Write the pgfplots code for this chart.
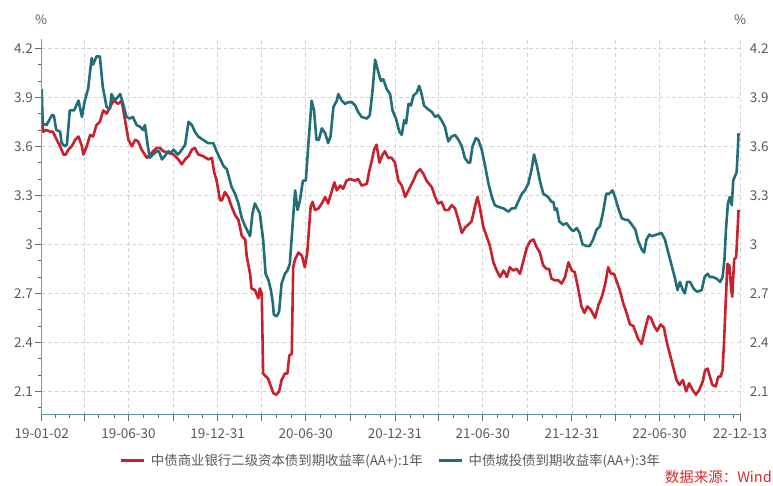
\documentclass[border=0pt]{standalone}
\usepackage{pgfplots}
\pgfplotsset{compat=1.18}
\usepackage{fontspec}
\setmainfont{Noto Sans CJK SC}

\definecolor{bondred}{RGB}{200,32,45}
\definecolor{bondteal}{RGB}{33,110,120}
\definecolor{labelgray}{RGB}{89,89,89}
\definecolor{gridgray}{RGB}{210,210,210}
\definecolor{axisgray}{RGB}{150,150,150}
\definecolor{axisteal}{RGB}{95,150,162}
\definecolor{srcred}{RGB}{226,40,40}

% x = calendar days since 2019-01-02
\pgfplotsset{
  bondframe/.style={
    scale only axis, width=698.3bp, height=375bp,
    xmin=0, xmax=1441, ymin=1.96, ymax=4.255,
    ytick={2.1,2.4,2.7,3,3.3,3.6,3.9,4.2},
    /pgf/number format/assume math mode=true,
    ticklabel style={font=\fontsize{13.5bp}{15bp}\selectfont, text=labelgray, inner sep=0pt},
  }
}

\begin{document}
\begin{tikzpicture}
\begin{axis}[
  bondframe,
  axis x line*=bottom, axis y line*=left,
  x axis line style={draw=axisteal, line width=1bp, -},
  y axis line style={draw=axisgray, line width=0.8bp, -},
  tick align=outside,
  major tick length=6.7bp, minor tick length=4bp,
  every tick/.style={draw=axisgray!70!black, line width=0.8bp},
  xtick={0,179,363,545,729,910,1094,1275,1441},
  xticklabels={19-01-02,19-06-30,19-12-31,20-06-30,20-12-31,21-06-30,21-12-31,22-06-30,22-12-13},
  extra x ticks={88,271,454,637,819,1002,1184,1367},
  extra x tick labels={},
  minor xtick={29,57,118,149,210,241,302,332,394,423,484,515,576,607,668,698,760,788,849,880,941,972,1033,1063,1125,1153,1214,1245,1306,1337,1398,1428},
  minor ytick={2.0,2.2,2.3,2.5,2.6,2.8,2.9,3.1,3.2,3.4,3.5,3.7,3.8,4.0,4.1},
  xmajorgrids, ymajorgrids,
  major grid style={draw=gridgray, dash pattern=on 3.5bp off 3bp, line width=0.7bp},
  xticklabel style={anchor=north, yshift=-7bp},
  yticklabel style={anchor=east, xshift=-2bp},
  legend columns=2,
  legend cell align=left,
  legend style={at={(axis description cs:0.1121,-0.1245)}, anchor=west,
    draw=none, fill=none, inner sep=0pt, outer sep=0pt,
    nodes={inner sep=0pt, text=labelgray, font=\fontsize{13.4bp}{15bp}\selectfont},
    /tikz/every odd column/.append style={column sep=5bp},
    /tikz/every even column/.append style={column sep=15bp}},
  legend image code/.code={\draw[#1, line width=3bp] (0bp,0bp) -- (23bp,0bp);},
  every axis plot/.append style={line width=2.6bp, line join=round},
]
\addplot[bondred] coordinates {
(0,3.84)(3,3.69)(10,3.70)(17,3.69)(23,3.69)(31,3.64)(38,3.60)(45,3.55)(50,3.55)(55,3.58)
(62,3.60)(69,3.64)(76,3.66)(83,3.60)(86,3.55)(93,3.60)(100,3.67)(106,3.66)(113,3.73)(120,3.75)
(127,3.82)(134,3.80)(141,3.84)(148,3.88)(158,3.86)(165,3.88)(172,3.76)(179,3.64)(186,3.60)(193,3.64)
(199,3.63)(206,3.58)(217,3.53)(227,3.56)(237,3.59)(244,3.59)(251,3.57)(261,3.56)(272,3.55)(282,3.52)
(289,3.49)(296,3.52)(303,3.54)(310,3.58)(316,3.59)(323,3.55)(333,3.54)(344,3.52)(351,3.53)(356,3.44)
(361,3.39)(368,3.27)(372,3.27)(378,3.32)(385,3.29)(392,3.23)(399,3.18)(406,3.15)(413,3.05)(420,3.03)
(423,2.93)(430,2.82)(433,2.73)(440,2.72)(447,2.67)(450,2.73)(454,2.70)(457,2.21)(463,2.19)(467,2.18)
(473,2.13)(478,2.09)(484,2.08)(490,2.10)(495,2.17)(502,2.21)(507,2.21)(511,2.32)(516,2.33)(519,2.86)
(523,2.91)(530,2.95)(537,2.93)(543,2.86)(548,2.95)(555,3.23)(559,3.26)(564,3.21)(571,3.22)(578,3.25)
(585,3.29)(591,3.25)(598,3.32)(604,3.38)(609,3.33)(616,3.36)(622,3.34)(629,3.39)(636,3.40)(647,3.39)
(653,3.40)(660,3.36)(671,3.37)(676,3.45)(681,3.51)(686,3.58)(691,3.61)(697,3.50)(702,3.54)(708,3.57)
(715,3.53)(722,3.53)(729,3.50)(736,3.39)(743,3.36)(750,3.29)(755,3.32)(760,3.35)(767,3.39)(774,3.44)
(781,3.46)(788,3.43)(794,3.39)(805,3.35)(812,3.29)(818,3.25)(825,3.26)(832,3.21)(839,3.21)(846,3.24)
(853,3.22)(860,3.15)(867,3.07)(873,3.10)(880,3.12)(887,3.14)(894,3.23)(899,3.29)(904,3.23)(911,3.11)
(918,3.05)(925,2.99)(932,2.89)(939,2.84)(946,2.80)(953,2.84)(960,2.80)(966,2.86)(973,2.84)(980,2.85)
(987,2.82)(994,2.90)(1001,2.98)(1008,3.02)(1015,3.03)(1020,2.99)(1028,2.95)(1035,2.87)(1042,2.85)(1047,2.85)
(1052,2.79)(1059,2.78)(1066,2.78)(1073,2.76)(1080,2.80)(1087,2.89)(1094,2.84)(1100,2.83)(1107,2.73)(1114,2.62)
(1120,2.58)(1126,2.62)(1133,2.60)(1142,2.55)(1149,2.63)(1156,2.68)(1163,2.76)(1169,2.86)(1175,2.82)(1181,2.82)
(1187,2.77)(1193,2.72)(1200,2.64)(1207,2.58)(1214,2.51)(1221,2.50)(1226,2.46)(1231,2.42)(1238,2.39)(1245,2.48)
(1252,2.56)(1257,2.55)(1264,2.50)(1270,2.47)(1277,2.51)(1284,2.49)(1290,2.40)(1297,2.32)(1303,2.25)(1310,2.17)
(1316,2.14)(1323,2.17)(1330,2.10)(1336,2.15)(1343,2.11)(1350,2.08)(1357,2.11)(1364,2.16)(1369,2.23)(1374,2.24)
(1379,2.19)(1384,2.14)(1391,2.13)(1396,2.19)(1401,2.19)(1405,2.23)(1408,2.40)(1412,2.68)(1415,2.88)(1419,2.87)
(1423,2.72)(1425,2.68)(1429,2.91)(1433,2.92)(1436,3.09)(1438,3.21)
};
\addlegendentry{中债商业银行二级资本债到期收益率(AA+):1年}
\addplot[bondteal] coordinates {
(0,3.95)(2,3.74)(10,3.73)(21,3.79)(25,3.79)(30,3.70)(38,3.69)(41,3.62)(48,3.60)(52,3.61)
(58,3.82)(67,3.82)(76,3.88)(83,3.78)(89,3.88)(96,3.955)(103,4.14)(106,4.10)(113,4.15)(120,4.15)
(126,3.965)(134,3.84)(141,3.83)(144,3.92)(151,3.88)(162,3.92)(168,3.86)(175,3.78)(182,3.77)(188,3.78)
(196,3.73)(203,3.72)(209,3.70)(213,3.73)(219,3.60)(223,3.53)(230,3.55)(237,3.57)(242,3.57)(248,3.52)
(254,3.54)(261,3.57)(267,3.56)(272,3.58)(281,3.55)(287,3.57)(296,3.61)(303,3.75)(310,3.73)(316,3.69)
(323,3.66)(333,3.64)(343,3.62)(354,3.62)(361,3.57)(364,3.55)(375,3.48)(382,3.46)(392,3.35)(399,3.31)
(406,3.25)(413,3.16)(420,3.11)(430,3.05)(435,3.19)(440,3.25)(450,3.19)(457,3.03)(462,2.82)(468,2.78)
(473,2.72)(477,2.64)(479,2.57)(485,2.56)(490,2.59)(495,2.76)(502,2.82)(507,2.84)(512,2.88)(518,3.13)
(523,3.33)(528,3.21)(533,3.27)(539,3.39)(545,3.39)(549,3.56)(557,3.88)(562,3.82)(567,3.64)(572,3.64)
(578,3.71)(585,3.68)(591,3.62)(596,3.66)(602,3.84)(609,3.88)(612,3.92)(619,3.88)(626,3.86)(633,3.87)
(640,3.87)(647,3.85)(653,3.81)(660,3.78)(671,3.77)(677,3.79)(683,3.95)(688,4.13)(695,4.05)(700,4.00)
(705,4.01)(712,3.95)(719,3.92)(724,3.82)(731,3.77)(738,3.69)(743,3.67)(748,3.76)(752,3.74)(757,3.86)
(762,3.85)(767,3.91)(774,3.93)(779,3.97)(784,3.92)(789,3.85)(796,3.83)(805,3.81)(812,3.78)(818,3.79)
(825,3.76)(832,3.72)(839,3.63)(846,3.66)(853,3.67)(860,3.64)(867,3.60)(873,3.53)(880,3.50)(884,3.50)
(889,3.60)(896,3.65)(901,3.64)(908,3.58)(915,3.48)(922,3.37)(929,3.29)(935,3.24)(942,3.23)(953,3.22)
(963,3.20)(970,3.22)(977,3.22)(983,3.26)(991,3.31)(997,3.33)(1004,3.37)(1011,3.46)(1016,3.55)(1022,3.48)
(1028,3.39)(1035,3.31)(1045,3.29)(1052,3.26)(1056,3.26)(1059,3.21)(1063,3.22)(1068,3.14)(1076,3.12)(1083,3.13)
(1090,3.10)(1097,3.08)(1104,3.10)(1110,3.07)(1116,3.00)(1125,2.99)(1131,2.99)(1138,3.03)(1145,3.09)(1152,3.11)
(1158,3.19)(1165,3.31)(1171,3.31)(1178,3.33)(1183,3.29)(1190,3.22)(1197,3.16)(1204,3.15)(1210,3.15)(1218,3.12)
(1225,3.09)(1231,3.02)(1238,2.97)(1243,2.95)(1248,3.03)(1254,3.06)(1259,3.05)(1269,3.06)(1279,3.07)(1286,3.03)
(1293,2.95)(1300,2.87)(1307,2.79)(1312,2.72)(1317,2.77)(1323,2.72)(1327,2.70)(1332,2.77)(1338,2.77)(1345,2.73)
(1352,2.71)(1362,2.72)(1368,2.80)(1374,2.82)(1379,2.80)(1385,2.80)(1393,2.79)(1400,2.77)(1405,2.80)(1409,2.91)
(1412,3.09)(1416,3.25)(1420,3.29)(1424,3.24)(1427,3.39)(1431,3.42)(1434,3.44)(1436,3.55)(1438,3.68)
};
\addlegendentry{中债城投债到期收益率(AA+):3年}
\end{axis}

% right-hand value scale, labels only
\begin{axis}[
  bondframe,
  axis y line*=right, axis x line=none,
  y axis line style={draw=none},
  major tick length=0pt,
  yticklabel style={anchor=west, xshift=9.7bp},
]
\end{axis}

\node[text=labelgray, font=\fontsize{13bp}{15bp}\selectfont] at (-0.7bp,394.3bp) {\%};
\node[text=labelgray, font=\fontsize{13bp}{15bp}\selectfont] at (698.3bp,394.3bp) {\%};
\node[anchor=east, inner sep=0pt, text=srcred, font=\fontsize{14.5bp}{16bp}\selectfont] at (730.3bp,-62.7bp) {数据来源：Wind};

\pgfresetboundingbox
\useasboundingbox (-41.7bp,-71.7bp) rectangle (731.3bp,414.3bp);
\end{tikzpicture}
\end{document}
